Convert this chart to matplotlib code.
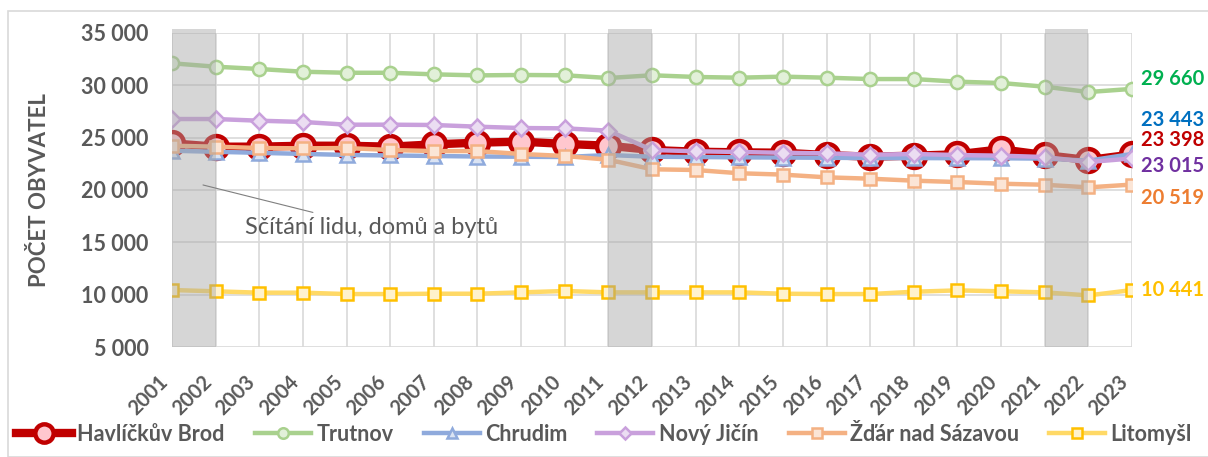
import matplotlib
matplotlib.use("Agg")
from matplotlib import pyplot as plt
from matplotlib.ticker import FuncFormatter, MultipleLocator
from matplotlib.patches import Rectangle

plt.rcParams['font.family'] = ['Lato', 'DejaVu Sans']

years = list(range(2001, 2024))

havlickuv_brod = [24460, 24140, 24140, 24230, 24230, 24140, 24360, 24520, 24620, 24400, 24230, 23820,
                  23660, 23600, 23560, 23340, 23180, 23280, 23410, 23890, 23340, 22860, 23398]
trutnov = [32105, 31780, 31560, 31300, 31200, 31200, 31050, 30950, 30990, 30960, 30700, 30960,
           30800, 30730, 30830, 30730, 30600, 30600, 30350, 30220, 29870, 29360, 29660]
chrudim = [23750, 23650, 23550, 23450, 23350, 23300, 23250, 23200, 23180, 23150, 23340, 23180,
           23150, 23120, 23100, 23080, 23050, 23050, 23040, 23030, 23000, 22800, 23443]
novy_jicin = [26780, 26780, 26620, 26500, 26240, 26240, 26210, 26050, 25920, 25890, 25670, 23820,
              23700, 23630, 23560, 23500, 23370, 23440, 23340, 23280, 23150, 22670, 23015]
zdar = [24230, 24140, 24010, 23980, 24010, 23820, 23720, 23720, 23440, 23250, 22890, 21980,
        21910, 21600, 21470, 21210, 21080, 20890, 20760, 20600, 20500, 20250, 20519]
litomysl = [10444, 10320, 10190, 10190, 10060, 10060, 10090, 10090, 10220, 10350, 10220, 10220,
            10220, 10220, 10090, 10060, 10060, 10280, 10410, 10320, 10220, 9930, 10441]

census_years = [2001, 2011, 2021]
last_labels = ["29 660", "23 443", "23 398", "23 015", "20 519", "10 441"]

fig = plt.figure(figsize=(12.08, 4.57), dpi=100)
ax = fig.add_axes([0.1424, 0.2407, 0.7947, 0.6871])

# order of drawing: Havlíčkův Brod at the bottom
series = [
    ("Havlíčkův Brod", havlickuv_brod, "#C00000", "#FFC7CE", "o", 16.5, 6.0, 3.2),
    ("Trutnov", trutnov, "#A9D18E", "#E2F0D9", "o", 9.5, 3.2, 1.8),
    ("Chrudim", chrudim, "#8FAADC", "#DAE3F3", "^", 9.5, 3.2, 1.8),
    ("Nový Jičín", novy_jicin, "#C9A0DC", "#EBDDF2", "D", 8, 3.2, 1.8),
    ("Žďár nad Sázavou", zdar, "#F4B183", "#FBE5D6", "s", 8.5, 3.2, 1.8),
    ("Litomyšl", litomysl, "#FFD966", "#FFF2CC", "s", 8.5, 3.2, 1.8),
]
edge_colors = {"Litomyšl": "#FFC000"}

handles = []
for name, vals, col, fill, mk, ms, lw, mew in series:
    h, = ax.plot(years, vals, color=col, lw=lw, marker=mk, ms=ms,
                 mfc=fill, mec=edge_colors.get(name, col), mew=mew, label=name,
                 solid_joinstyle='round', zorder=3)
    handles.append(h)

# census shading
for y in census_years:
    ax.axvspan(y, y + 1, ymin=0, ymax=1.012, color="#A6A6A6", alpha=0.45,
               lw=0, zorder=4, clip_on=False)

ax.set_xlim(2001, 2023)
ax.set_ylim(5000, 35000)
ax.yaxis.set_major_locator(MultipleLocator(5000))
ax.set_xticks(years, [str(y) for y in years], rotation=45, ha="right",
              fontweight="bold")
ax.yaxis.set_major_formatter(FuncFormatter(lambda v, p: f"{v:,.0f}".replace(",", " ")))
ax.grid(True, color="#D9D9D9", lw=1.2, zorder=0)
ax.set_axisbelow(True)
for s in ax.spines.values():
    s.set_visible(False)
ax.tick_params(axis="y", length=0, colors="#595959", labelsize=15.5, pad=17)
ax.tick_params(axis="x", length=0, colors="#595959", labelsize=14.5, pad=18)
for lab in ax.get_yticklabels():
    lab.set_fontweight("bold")

ax.set_ylabel("POČET OBYVATEL", fontsize=16, fontweight="bold", color="#595959")
ax.yaxis.set_label_coords(-0.127, 0.5)

# end-of-line value labels
label_cols = ["#00B050", "#0070C0", "#C00000", "#7030A0", "#ED7D31", "#FFC000"]
label_y = [30600, 26700, 24750, 22300, 19250, 10441]
for txt, yv, c in zip(last_labels, label_y, label_cols):
    ax.text(2023.2, yv, txt, color=c, fontsize=14.5, fontweight="bold",
            va="center", ha="left", clip_on=False)

# census annotation
ax.annotate("Sčítání lidu, domů a bytů", xy=(2001.71, 20480), xytext=(2002.67, 16460),
            fontsize=17, color="#595959", va="center", ha="left",
            arrowprops=dict(arrowstyle="-", color="#7F7F7F", lw=0.8, shrinkA=4, shrinkB=0),
            zorder=6)

fig.legend(handles=handles, loc="center", bbox_to_anchor=(0.5, 0.05), ncol=6, frameon=False,
           prop={"weight": "bold", "size": 15.5}, labelcolor="#595959", handlelength=2.6,
           columnspacing=1.4, handletextpad=0.25, markerscale=0.8)

fig.add_artist(Rectangle((0.007, 0.0), 1.2, 0.975, transform=fig.transFigure,
                         fill=False, ec="#D9D9D9", lw=1.2))

fig.savefig("out.png", dpi=100)
